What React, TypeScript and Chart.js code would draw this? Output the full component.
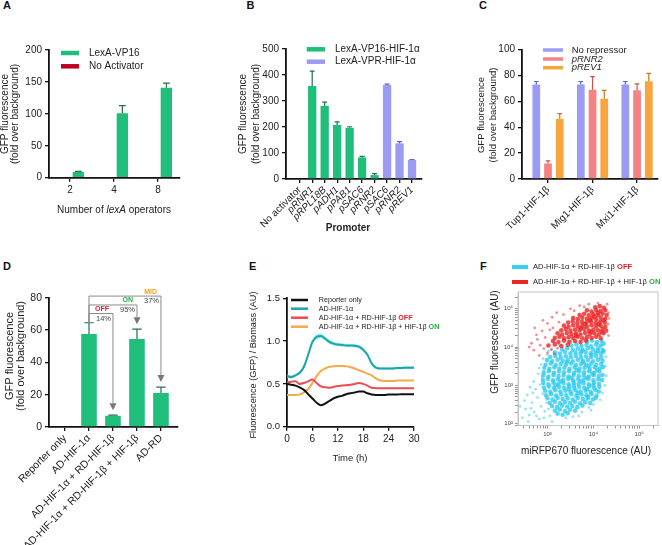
import React, { useEffect, useRef } from "react";
import { Chart, registerables } from "chart.js";

Chart.register(...registerables);

const PAGE_W = 662;
const PAGE_H = 545;
const FONT = "'Liberation Sans', Arial, Helvetica, sans-serif";
Chart.defaults.font.family = FONT;
Chart.defaults.color = "#222";

// ---------------- DATA ----------------
// Panel A
const aOperators = ["2", "4", "8"];
const aVP16 = [9, 101, 141];
const aVP16Err = [1, 12, 7];
const aNoActivator = [0, 0, 0];

// Panel B
const bPromoters = ["No activator", "pRNR1", "pRPL18B", "pADH1", "pPAB1", "pSAC6", "pRNR2", "pSAC6", "pRNR2", "pREV1"];
const bVP16 = [0, 358, 281, 208, 197, 83, 15];
const bVP16Err = [0, 57, 15, 12, 4, 4, 6];
const bVPR = [362, 137, 73];
const bVPRErr = [3, 7, 2];

// Panel C
const cFusions = ["Tup1-HIF-1β", "Mig1-HIF-1β", "Mxi1-HIF-1β"];
const cNoRepressor = [73, 73, 73];
const cNoRepressorErr = [2.3, 2.3, 2.3];
const cRNR2 = [12, 69, 68.5];
const cRNR2Err = [2, 10, 5];
const cREV1 = [46.5, 62, 75.5];
const cREV1Err = [4, 6.5, 6];

// Panel D
const dConditions = ["Reporter only", "AD-HIF-1α", "AD-HIF-1α + RD-HIF-1β", "AD-HIF-1α + RD-HIF-1β + HIF-1β", "AD-RD"];
const dValues = [0, 57.5, 7, 54.5, 21];
const dErr = [0, 7, 0.3, 6, 3.7];
const dTargets = [2, 3, 4];
const dLevels = [70.2, 75.5, 81];
const dStatus = ["OFF", "ON", "MID"];
const dStatusColors = ["#e8202a", "#22b33a", "#f0a020"];
const dPercent = ["14%", "95%", "37%"];

// Panel E
const eTimes = [0, 1, 2, 3, 4, 5, 6, 7, 8, 9, 10, 11, 12, 13, 14, 15, 16, 17, 18, 19, 20, 21, 22, 23, 24, 25, 26, 27, 28, 29, 30];
const eReporter = [0.5, 0.49, 0.48, 0.46, 0.43, 0.38, 0.33, 0.28, 0.25, 0.27, 0.3, 0.33, 0.35, 0.36, 0.38, 0.39, 0.4, 0.41, 0.41, 0.39, 0.375, 0.37, 0.37, 0.37, 0.375, 0.375, 0.375, 0.38, 0.38, 0.38, 0.38];
const eAD = [0.59, 0.58, 0.6, 0.63, 0.7, 0.84, 0.99, 1.05, 1.06, 1.03, 0.99, 0.97, 0.96, 0.955, 0.95, 0.95, 0.945, 0.935, 0.9, 0.84, 0.74, 0.69, 0.68, 0.68, 0.68, 0.68, 0.685, 0.685, 0.69, 0.69, 0.69];
const eADsem = [0.02, 0.02, 0.02, 0.02, 0.025, 0.03, 0.03, 0.03, 0.03, 0.03, 0.025, 0.025, 0.02, 0.02, 0.02, 0.02, 0.02, 0.02, 0.02, 0.02, 0.02, 0.015, 0.015, 0.015, 0.015, 0.015, 0.015, 0.015, 0.015, 0.015, 0.015];
const eOff = [0.52, 0.525, 0.53, 0.5, 0.51, 0.53, 0.55, 0.51, 0.47, 0.46, 0.455, 0.465, 0.475, 0.48, 0.485, 0.49, 0.5, 0.51, 0.5, 0.48, 0.455, 0.45, 0.45, 0.45, 0.45, 0.45, 0.45, 0.45, 0.45, 0.45, 0.45];
const eOn = [0.37, 0.37, 0.37, 0.375, 0.4, 0.44, 0.51, 0.59, 0.65, 0.68, 0.7, 0.705, 0.71, 0.71, 0.705, 0.695, 0.68, 0.66, 0.64, 0.62, 0.6, 0.565, 0.54, 0.535, 0.535, 0.535, 0.54, 0.54, 0.54, 0.54, 0.54];
const eLabels = ["Reporter only", "AD-HIF-1α", "AD-HIF-1α + RD-HIF-1β ", "AD-HIF-1α + RD-HIF-1β + HIF-1β "];
const eTags = ["", "", "OFF", "ON"];

// Panel F (log10 of miRFP670, log10 of GFP)
const fOffCells = [
  [3.86, 4.14], [3.97, 4.17], [4.08, 4.13], [4.18, 4.16],
  [3.52, 4.04], [3.63, 4.07], [3.74, 4.03], [3.85, 4.06], [3.95, 4.02], [4.06, 4.07], [4.16, 4.04], [4.22, 4.09],
  [3.32, 3.94], [3.43, 3.97], [3.55, 3.93], [3.66, 3.96], [3.77, 3.92], [3.88, 3.97], [3.99, 3.94], [4.1, 3.96], [4.2, 3.93],
  [3.16, 3.86], [3.27, 3.83], [3.38, 3.87], [3.5, 3.84], [3.61, 3.86], [3.72, 3.83], [3.83, 3.87], [3.94, 3.84], [4.05, 3.86], [4.16, 3.83], [4.22, 3.88],
  [3.06, 3.74], [3.17, 3.77], [3.29, 3.73], [3.4, 3.76], [3.51, 3.74], [3.62, 3.77], [3.73, 3.73], [3.84, 3.76], [3.95, 3.74], [4.06, 3.77], [4.17, 3.73],
  [2.99, 3.66], [3.1, 3.63], [3.22, 3.67], [3.33, 3.64], [3.44, 3.66], [3.55, 3.63], [3.66, 3.67], [3.77, 3.64], [3.88, 3.66], [3.99, 3.63], [4.1, 3.67], [4.2, 3.64],
  [2.96, 3.54], [3.07, 3.57], [3.18, 3.53], [3.29, 3.56], [3.4, 3.54], [3.51, 3.57], [3.62, 3.53], [3.73, 3.56], [3.84, 3.54], [3.95, 3.57], [4.06, 3.53], [4.17, 3.56],
  [2.93, 3.46], [3.04, 3.43], [3.15, 3.47], [3.26, 3.44], [3.37, 3.46], [3.48, 3.43], [3.59, 3.47], [3.7, 3.44], [3.81, 3.46], [3.92, 3.43], [4.03, 3.47], [4.14, 3.44], [4.21, 3.48],
  [2.92, 3.34], [3.03, 3.37], [3.14, 3.33], [3.25, 3.36], [3.36, 3.34], [3.47, 3.37], [3.58, 3.33], [3.69, 3.36], [3.8, 3.34], [3.91, 3.37], [4.02, 3.33], [4.13, 3.36],
  [2.91, 3.26], [3.02, 3.23], [3.13, 3.27], [3.24, 3.24], [3.35, 3.26], [3.46, 3.23], [3.57, 3.27], [3.68, 3.24], [3.79, 3.26], [3.9, 3.23], [4.01, 3.27], [4.12, 3.24], [4.2, 3.27],
  [2.9, 3.14], [3.01, 3.17], [3.12, 3.13], [3.23, 3.16], [3.34, 3.14], [3.45, 3.17], [3.56, 3.13], [3.67, 3.16], [3.78, 3.14], [3.89, 3.17], [4.0, 3.13], [4.11, 3.16], [4.19, 3.14],
  [2.91, 3.06], [3.02, 3.03], [3.13, 3.07], [3.24, 3.04], [3.35, 3.06], [3.46, 3.03], [3.57, 3.07], [3.68, 3.04], [3.79, 3.06], [3.9, 3.03], [4.01, 3.07], [4.12, 3.04],
  [2.92, 2.94], [3.03, 2.97], [3.14, 2.93], [3.25, 2.96], [3.36, 2.94], [3.47, 2.97], [3.58, 2.93], [3.69, 2.96], [3.8, 2.94], [3.91, 2.97], [4.02, 2.93], [4.13, 2.96],
  [2.95, 2.86], [3.06, 2.83], [3.17, 2.87], [3.28, 2.84], [3.39, 2.86], [3.5, 2.83], [3.61, 2.87], [3.72, 2.84], [3.83, 2.86], [3.94, 2.83], [4.05, 2.87], [4.12, 2.84],
  [2.97, 2.74], [3.08, 2.77], [3.19, 2.73], [3.3, 2.76], [3.41, 2.74], [3.52, 2.77], [3.63, 2.73], [3.74, 2.76], [3.85, 2.74], [3.96, 2.77], [4.07, 2.73],
  [3.0, 2.66], [3.11, 2.63], [3.22, 2.67], [3.33, 2.64], [3.44, 2.66], [3.55, 2.63], [3.66, 2.67], [3.77, 2.64], [3.88, 2.66], [3.99, 2.63], [4.05, 2.67],
  [3.05, 2.54], [3.16, 2.57], [3.27, 2.53], [3.38, 2.56], [3.49, 2.54], [3.6, 2.57], [3.71, 2.53], [3.82, 2.56], [3.93, 2.54],
  [3.1, 2.46], [3.21, 2.43], [3.32, 2.47], [3.43, 2.44], [3.54, 2.46], [3.65, 2.43], [3.76, 2.47],
  [3.16, 2.34], [3.27, 2.37], [3.38, 2.33], [3.49, 2.36], [3.6, 2.34],
  [3.22, 2.26], [3.33, 2.23], [3.44, 2.27],
  [3.58, 3.0], [3.72, 3.1], [3.85, 3.2], [3.64, 3.4], [3.9, 3.5], [3.78, 3.6], [3.98, 3.3], [4.08, 3.4], [3.52, 3.2], [3.46, 2.9],
  [3.66, 2.8], [3.86, 2.9], [4.0, 3.0], [3.74, 3.9], [3.96, 3.8], [4.1, 3.9], [3.42, 3.6], [3.3, 3.1], [3.18, 3.0], [3.88, 2.7],
];
const fOffSparse = [
  [2.45, 2.15], [2.52, 2.38], [2.6, 2.22], [2.66, 2.55], [2.71, 2.3], [2.78, 2.68], [2.82, 2.12], [2.86, 2.45], [2.9, 2.78], [2.58, 2.05],
  [2.74, 2.9], [2.84, 3.02], [2.88, 3.22], [2.94, 2.32], [3.05, 2.2], [3.1, 2.05], [2.98, 2.55], [2.68, 2.8], [2.8, 3.3], [2.86, 3.55],
  [3.0, 3.8], [3.1, 3.95], [3.25, 4.05], [3.45, 4.15], [4.26, 3.5], [4.25, 3.0], [4.24, 3.9], [3.55, 2.18], [3.75, 2.3], [3.9, 2.42],
  [4.0, 2.5], [4.15, 2.62], [2.5, 2.6], [2.62, 2.95], [2.4, 2.45], [2.56, 2.75], [2.7, 3.1], [2.76, 2.2], [2.92, 2.15], [3.02, 2.38],
  [2.82, 3.45], [2.9, 3.7], [3.02, 3.9], [4.28, 3.25], [4.27, 3.75], [4.2, 2.8], [3.95, 2.35], [3.68, 2.2], [3.4, 2.15], [2.64, 2.4],
];
const fOnCells = [
  [4.04, 5.04], [4.14, 5.07], [4.23, 5.03],
  [3.86, 4.96], [3.96, 4.93], [4.06, 4.97], [4.16, 4.94], [4.26, 4.96],
  [3.7, 4.84], [3.8, 4.87], [3.9, 4.83], [4.0, 4.86], [4.1, 4.84], [4.2, 4.87], [4.29, 4.84],
  [3.56, 4.76], [3.66, 4.73], [3.76, 4.77], [3.86, 4.74], [3.96, 4.76], [4.06, 4.73], [4.16, 4.77], [4.26, 4.74],
  [3.45, 4.64], [3.55, 4.67], [3.65, 4.63], [3.75, 4.66], [3.85, 4.64], [3.95, 4.67], [4.05, 4.63], [4.15, 4.66], [4.25, 4.64],
  [3.36, 4.56], [3.46, 4.53], [3.56, 4.57], [3.66, 4.54], [3.76, 4.56], [3.86, 4.53], [3.96, 4.57], [4.06, 4.54], [4.16, 4.56], [4.26, 4.53],
  [3.3, 4.44], [3.4, 4.47], [3.5, 4.43], [3.6, 4.46], [3.7, 4.44], [3.8, 4.47], [3.9, 4.43], [4.0, 4.46], [4.1, 4.44], [4.2, 4.47], [4.28, 4.43],
  [3.22, 4.36], [3.32, 4.33], [3.42, 4.37], [3.52, 4.34], [3.62, 4.36], [3.72, 4.33], [3.82, 4.37], [3.92, 4.34], [4.02, 4.36], [4.12, 4.33], [4.22, 4.36],
  [3.16, 4.24], [3.26, 4.27], [3.36, 4.23], [3.46, 4.26], [3.56, 4.24], [3.66, 4.27], [3.76, 4.23], [3.86, 4.26], [3.96, 4.24], [4.06, 4.27], [4.16, 4.23],
  [3.12, 4.16], [3.24, 4.13], [3.36, 4.17], [3.48, 4.14], [3.6, 4.16], [3.72, 4.13], [3.84, 4.17],
  [3.02, 4.04], [3.16, 4.07], [3.3, 4.03], [3.44, 4.06],
  [3.92, 4.7], [4.02, 4.8], [4.12, 4.6], [4.22, 4.7], [3.82, 4.6], [3.72, 4.5], [4.1, 4.9], [3.95, 4.4], [4.18, 4.4], [3.62, 4.3],
];
const fOnSparse = [
  [2.92, 3.96], [3.08, 3.93], [3.22, 3.97],
  [2.7, 3.92], [2.78, 4.2], [2.88, 4.42], [3.0, 4.62], [2.84, 4.05], [3.1, 4.78], [2.76, 4.32], [2.95, 4.25], [3.05, 4.45], [2.65, 4.1],
  [3.2, 4.9], [3.35, 4.85], [3.5, 5.0], [3.7, 5.08], [3.9, 5.12], [4.3, 5.12], [3.0, 3.85], [2.82, 3.78], [3.15, 3.82], [4.32, 4.6], [4.33, 4.9],
  [2.6, 4.0], [2.72, 4.5], [2.9, 4.7], [3.25, 4.65], [3.12, 4.5], [3.58, 4.95], [3.8, 5.05], [4.1, 5.15], [4.34, 4.75], [4.33, 4.3],
];
const fLabels = ["AD-HIF-1α + RD-HIF-1β ", "AD-HIF-1α + RD-HIF-1β + HIF-1β "];
const fTags = ["OFF", "ON"];

// ---------------- STYLE ----------------
const GREEN = "#1fbf7b";
const GREEN_ERR = "#2a6b52";
const DARKRED = "#c0001e";
const PURPLE = "#9b9bf4";
const PURPLE_ERR = "#6360c4";
const SALMON = "#f58383";
const SALMON_ERR = "#c85252";
const ORANGE = "#f7a53c";
const ORANGE_ERR = "#bf7a1e";
const TAG_RED = "#e8202a";
const TAG_GREEN = "#22b33a";

type Area = { l: number; t: number; r: number; b: number };

function base(a: Area) {
  return {
    animation: false,
    responsive: false,
    events: [],
    layout: { padding: { left: 0, top: a.t, right: PAGE_W - a.r, bottom: 0 } },
    plugins: { legend: { display: false }, tooltip: { enabled: false } },
  };
}

const axisGrid = (extra: any = {}) => ({
  display: true,
  drawOnChartArea: false,
  drawTicks: true,
  tickLength: 4,
  color: "#111",
  lineWidth: 1.3,
  offset: false,
  ...extra,
});
const axisBorder = { display: true, color: "#111", width: 1.8 };

function catAxis(a: Area, labels: string[], min: number, max: number, tickOpts: any) {
  return {
    type: "linear",
    min,
    max,
    offset: false,
    afterBuildTicks: (s: any) => {
      s.ticks = labels.map((_, i) => ({ value: i }));
    },
    afterFit: (s: any) => {
      s.height = PAGE_H - a.b;
    },
    ticks: { autoSkip: false, padding: 2, color: "#222", callback: (v: number) => labels[v] ?? "", ...tickOpts },
    grid: axisGrid(),
    border: axisBorder,
  };
}

function valAxis(a: Area, max: number, step: number, tickOpts: any = {}) {
  return {
    min: 0,
    max,
    afterFit: (s: any) => {
      s.width = a.l;
    },
    ticks: { stepSize: step, padding: 3, color: "#222", font: { size: 10 }, ...tickOpts },
    grid: axisGrid(),
    border: axisBorder,
  };
}

function fontStr(size: number, weight = "normal", style = "normal") {
  return `${style} ${weight} ${size}px ${FONT}`;
}

function drawText(ctx: CanvasRenderingContext2D, str: string, x: number, y: number, o: any = {}) {
  ctx.save();
  ctx.font = fontStr(o.size || 10, o.weight, o.style);
  ctx.fillStyle = o.color || "#222";
  ctx.textAlign = o.align || "left";
  ctx.textBaseline = "middle";
  ctx.translate(x, y);
  if (o.rot) ctx.rotate(o.rot);
  ctx.fillText(str, 0, 0);
  ctx.restore();
}

function drawRich(ctx: CanvasRenderingContext2D, segs: any[], x: number, y: number, size: number, align = "left") {
  ctx.save();
  let total = 0;
  const widths = segs.map((s) => {
    ctx.font = fontStr(size, s.weight, s.style);
    const w = ctx.measureText(s.t).width;
    total += w;
    return w;
  });
  let cx = align === "center" ? x - total / 2 : align === "right" ? x - total : x;
  ctx.textBaseline = "middle";
  ctx.textAlign = "left";
  segs.forEach((s, i) => {
    ctx.font = fontStr(size, s.weight, s.style);
    ctx.fillStyle = s.color || "#222";
    ctx.fillText(s.t, cx, y);
    cx += widths[i];
  });
  ctx.restore();
}

function yTitle(ctx: CanvasRenderingContext2D, lines: string[], xs: number[], cy: number, size: number) {
  lines.forEach((l, i) => drawText(ctx, l, xs[i], cy, { size, align: "center", rot: -Math.PI / 2 }));
}

function swatch(ctx: CanvasRenderingContext2D, x1: number, x2: number, y: number, h: number, color: string) {
  ctx.save();
  ctx.fillStyle = color;
  ctx.fillRect(x1, y - h / 2, x2 - x1, h);
  ctx.restore();
}

const errorBars = {
  id: "errorBars",
  afterDatasetsDraw(chart: any) {
    const ctx = chart.ctx;
    const ys = chart.scales.y;
    chart.data.datasets.forEach((ds: any, i: number) => {
      if (!ds.errors) return;
      const meta = chart.getDatasetMeta(i);
      meta.data.forEach((el: any, j: number) => {
        const v = ds.data[j].y;
        const e = ds.errors[j];
        if (!e || !v) return;
        const yTop = ys.getPixelForValue(v + e);
        const yBase = ys.getPixelForValue(v);
        const hw = el.width * 0.3;
        ctx.save();
        ctx.strokeStyle = ds.errColor;
        ctx.lineWidth = 1.2;
        ctx.beginPath();
        ctx.moveTo(el.x, yBase);
        ctx.lineTo(el.x, yTop);
        ctx.moveTo(el.x - hw, yTop);
        ctx.lineTo(el.x + hw, yTop);
        ctx.stroke();
        ctx.restore();
      });
    });
  },
};

const decor = (fn: (chart: any, ctx: CanvasRenderingContext2D) => void) => ({
  id: "decor",
  afterDraw(chart: any) {
    fn(chart, chart.ctx);
  },
});

const xy = (arr: number[], offset = 0) => arr.map((v, i) => ({ x: i + offset, y: v }));

// ---------------- PANELS ----------------
function makeA() {
  const area = { l: 49, t: 50, r: 180, b: 177.7 };
  return {
    type: "bar",
    data: {
      datasets: [
        { label: "No Activator", data: xy(aNoActivator), backgroundColor: DARKRED, categoryPercentage: 0.76, barPercentage: 0.68 },
        { label: "LexA-VP16", data: xy(aVP16), backgroundColor: GREEN, errors: aVP16Err, errColor: GREEN_ERR, categoryPercentage: 0.76, barPercentage: 0.68 },
      ],
    },
    options: {
      ...base(area),
      scales: {
        x: catAxis(area, aOperators, -0.477, 2.5, { maxRotation: 0, minRotation: 0, padding: 3, font: { size: 10 } }),
        y: valAxis(area, 200, 50),
      },
    },
    plugins: [
      errorBars,
      decor((c, ctx) => {
        yTitle(ctx, ["GFP fluorescence", "(fold over background)"], [5.5, 15.5], 114, 10);
        drawRich(ctx, [{ t: "Number of " }, { t: "lexA", style: "italic" }, { t: " operators" }], 114, 210, 10, "center");
        swatch(ctx, 61, 79, 53, 4.5, GREEN);
        swatch(ctx, 61, 79, 66.3, 4.5, DARKRED);
        drawText(ctx, "LexA-VP16", 89, 53, { size: 10 });
        drawText(ctx, "No Activator", 89, 66.3, { size: 10 });
      }),
    ],
  };
}

function makeB() {
  const area = { l: 286, t: 49, r: 422, b: 179 };
  return {
    type: "bar",
    data: {
      datasets: [
        { label: "LexA-VP16-HIF-1α", data: xy(bVP16), backgroundColor: GREEN, errors: bVP16Err, errColor: GREEN_ERR, grouped: false, categoryPercentage: 1, barPercentage: 0.665 },
        { label: "LexA-VPR-HIF-1α", data: xy(bVPR, bVP16.length), backgroundColor: PURPLE, errors: bVPRErr, errColor: PURPLE_ERR, grouped: false, categoryPercentage: 1, barPercentage: 0.665 },
      ],
    },
    options: {
      ...base(area),
      scales: {
        x: catAxis(area, bPromoters, -1.1, 9.8, {
          maxRotation: 45,
          minRotation: 45,
          padding: 1,
          font: (c: any) => ({ size: 10, style: c.index > 0 ? "italic" : "normal" }),
        }),
        y: valAxis(area, 500, 100),
      },
    },
    plugins: [
      errorBars,
      decor((c, ctx) => {
        yTitle(ctx, ["GFP fluorescence", "(fold over background)"], [243.7, 256.2], 114, 10);
        drawText(ctx, "Promoter", 348, 228, { size: 10, weight: "bold", align: "center" });
        swatch(ctx, 306.7, 325, 49.3, 4.5, GREEN);
        swatch(ctx, 306.7, 325, 61.7, 4.5, PURPLE);
        drawText(ctx, "LexA-VP16-HIF-1α", 335, 49.3, { size: 10 });
        drawText(ctx, "LexA-VPR-HIF-1α", 335, 61.7, { size: 10 });
      }),
    ],
  };
}

function makeC() {
  const area = { l: 522, t: 49.5, r: 658, b: 179 };
  const common = { categoryPercentage: 0.79, barPercentage: 0.66 };
  return {
    type: "bar",
    data: {
      datasets: [
        { label: "No repressor", data: xy(cNoRepressor), backgroundColor: PURPLE, errors: cNoRepressorErr, errColor: PURPLE_ERR, ...common },
        { label: "pRNR2", data: xy(cRNR2), backgroundColor: SALMON, errors: cRNR2Err, errColor: SALMON_ERR, ...common },
        { label: "pREV1", data: xy(cREV1), backgroundColor: ORANGE, errors: cREV1Err, errColor: ORANGE_ERR, ...common },
      ],
    },
    options: {
      ...base(area),
      scales: {
        x: catAxis(area, cFusions, -0.584, 2.47, { maxRotation: 45, minRotation: 45, padding: 1, font: { size: 10 } }),
        y: valAxis(area, 100, 20),
      },
    },
    plugins: [
      errorBars,
      decor((c, ctx) => {
        yTitle(ctx, ["GFP fluorescence", "(fold over background)"], [481.7, 493.5], 115, 9.5);
        swatch(ctx, 543, 563, 50, 3.5, PURPLE);
        swatch(ctx, 543, 563, 59, 3.5, SALMON);
        swatch(ctx, 543, 563, 67.7, 3.5, ORANGE);
        drawText(ctx, "No repressor", 571.7, 50, { size: 9.5 });
        drawText(ctx, "pRNR2", 571.7, 59, { size: 9.5, style: "italic" });
        drawText(ctx, "pREV1", 571.7, 67.7, { size: 9.5, style: "italic" });
      }),
    ],
  };
}

function makeD() {
  const area = { l: 49, t: 297.7, r: 178, b: 427 };
  return {
    type: "bar",
    data: {
      datasets: [
        { label: "GFP", data: xy(dValues), backgroundColor: GREEN, errors: dErr, errColor: GREEN_ERR, categoryPercentage: 1, barPercentage: 0.65 },
      ],
    },
    options: {
      ...base(area),
      scales: {
        x: catAxis(area, dConditions, -0.667, 4.71, { maxRotation: 45, minRotation: 45, padding: 1, font: { size: 10.5 } }),
        y: valAxis(area, 80, 20, { font: { size: 10.5 } }),
      },
    },
    plugins: [
      errorBars,
      decor((chart, ctx) => {
        yTitle(ctx, ["GFP fluorescence", "(fold over background)"], [10, 21], 356, 11);
        const xs = chart.scales.x;
        const ys = chart.scales.y;
        const x0 = xs.getPixelForValue(1);
        const srcTop = ys.getPixelForValue(dValues[1] + dErr[1]);
        ctx.save();
        ctx.strokeStyle = "#8a8a8a";
        ctx.fillStyle = "#777";
        ctx.lineWidth = 1;
        dTargets.forEach((t, k) => {
          const x1 = xs.getPixelForValue(t);
          const yL = ys.getPixelForValue(dLevels[k]);
          const tip = ys.getPixelForValue(dValues[t] + dErr[t]) - 5;
          ctx.beginPath();
          ctx.moveTo(x0, srcTop);
          ctx.lineTo(x0, yL);
          ctx.lineTo(x1, yL);
          ctx.lineTo(x1, tip - 7);
          ctx.stroke();
          ctx.beginPath();
          ctx.moveTo(x1 - 3.5, tip - 7);
          ctx.lineTo(x1 + 3.5, tip - 7);
          ctx.lineTo(x1, tip);
          ctx.closePath();
          ctx.fill();
          drawText(ctx, dStatus[k], x1 - 4, yL - 4.5, { size: 7, weight: "bold", color: dStatusColors[k], align: "right" });
          drawText(ctx, dPercent[k], x1 - 2, yL + 5, { size: 7.5, color: "#444", align: "right" });
        });
        ctx.restore();
      }),
    ],
  };
}

function makeE() {
  const area = { l: 287, t: 298.3, r: 414, b: 426.7 };
  const line = (label: string, vals: number[], color: string) => ({
    label,
    data: vals.map((v, i) => ({ x: eTimes[i], y: v })),
    borderColor: color,
    borderWidth: 2,
    pointRadius: 0,
    fill: false,
    tension: 0.4,
    cubicInterpolationMode: "monotone",
  });
  const colors = ["#111111", "#1ba6ac", "#f04a50", "#f6a94a"];
  return {
    type: "line",
    data: {
      datasets: [
        line(eLabels[0], eReporter, colors[0]),
        line(eLabels[1], eAD, colors[1]),
        line(eLabels[2], eOff, colors[2]),
        line(eLabels[3], eOn, colors[3]),
        {
          label: "upper",
          data: eAD.map((v, i) => ({ x: eTimes[i], y: v + eADsem[i] })),
          borderWidth: 0,
          pointRadius: 0,
          fill: "+1",
          backgroundColor: "rgba(110,225,235,0.6)",
          tension: 0.4,
          cubicInterpolationMode: "monotone",
        },
        {
          label: "lower",
          data: eAD.map((v, i) => ({ x: eTimes[i], y: v - eADsem[i] })),
          borderWidth: 0,
          pointRadius: 0,
          fill: false,
          tension: 0.4,
          cubicInterpolationMode: "monotone",
        },
      ],
    },
    options: {
      ...base(area),
      scales: {
        x: {
          type: "linear",
          min: 0,
          max: 30,
          afterFit: (s: any) => {
            s.height = PAGE_H - area.b;
          },
          ticks: { stepSize: 6, padding: 3, font: { size: 10 }, color: "#222" },
          grid: axisGrid(),
          border: axisBorder,
        },
        y: valAxis(area, 1.5, 0.5, { callback: (v: number) => Number(v).toFixed(1), font: { size: 9.5 } }),
      },
    },
    plugins: [
      decor((c, ctx) => {
        drawText(ctx, "Fluorescence (GFP) / Biomass (AU)", 253.3, 365, { size: 9.2, align: "center", rot: -Math.PI / 2 });
        drawText(ctx, "Time (h)", 350, 458, { size: 9.5, align: "center" });
        const ly = [300, 308.7, 317.7, 326.7];
        eLabels.forEach((l, i) => {
          swatch(ctx, 291, 308, ly[i], 2.5, colors[i]);
          const segs: any[] = [{ t: l }];
          if (eTags[i]) segs.push({ t: eTags[i], weight: "bold", color: i === 2 ? TAG_RED : TAG_GREEN });
          drawRich(ctx, segs, 318.7, ly[i], 7.2);
        });
      }),
    ],
  };
}

const SUP: Record<number, string> = { 1: "¹", 2: "²", 3: "³", 4: "⁴", 5: "⁵", 6: "⁶" };

function logAxis(a: Area, lo: number, hi: number, isX: boolean) {
  return {
    type: "logarithmic",
    min: Math.pow(10, lo),
    max: Math.pow(10, hi),
    afterBuildTicks: (s: any) => {
      const t: any[] = [];
      for (let e = 1; e <= 6; e++) {
        for (let k = 1; k <= 9; k++) {
          const v = k * Math.pow(10, e);
          if (v >= s.min && v <= s.max) t.push({ value: v, major: k === 1 });
        }
      }
      s.ticks = t;
    },
    afterFit: (s: any) => {
      if (isX) s.height = PAGE_H - a.b;
      else s.width = a.l;
    },
    ticks: {
      autoSkip: false,
      maxRotation: 0,
      minRotation: 0,
      padding: 2,
      color: "#444",
      font: { size: 6 },
      callback: (v: number) => {
        const e = Math.log10(v);
        const r = Math.round(e);
        return Math.abs(e - r) < 1e-6 ? "10" + SUP[r] : "";
      },
    },
    grid: {
      display: true,
      drawOnChartArea: false,
      drawTicks: true,
      tickLength: 3,
      color: "#666",
      lineWidth: 0.7,
      offset: false,
    },
    border: { display: true, color: "#c4c4c4", width: 1 },
  };
}

function makeF() {
  const area = { l: 518, t: 292, r: 658, b: 425.5 };
  const pts = (arr: number[][]) => arr.map(([a, b]) => ({ x: Math.pow(10, a), y: Math.pow(10, b) }));
  const CYAN = "rgba(45,202,240,0.8)";
  const CYAN_LIGHT = "rgba(45,202,240,0.5)";
  const RED = "rgba(236,34,34,0.8)";
  const RED_LIGHT = "rgba(236,34,34,0.5)";
  return {
    type: "scatter",
    data: {
      datasets: [
        { label: fLabels[0] + fTags[0], data: pts(fOffCells), backgroundColor: CYAN, borderWidth: 0, pointRadius: 2.3, order: 2 },
        { label: fLabels[0] + fTags[0] + " sparse", data: pts(fOffSparse), backgroundColor: CYAN_LIGHT, borderWidth: 0, pointRadius: 1.4, order: 3 },
        { label: fLabels[1] + fTags[1], data: pts(fOnCells), backgroundColor: RED, borderWidth: 0, pointRadius: 2.3, order: 0 },
        { label: fLabels[1] + fTags[1] + " sparse", data: pts(fOnSparse), backgroundColor: RED_LIGHT, borderWidth: 0, pointRadius: 1.4, order: 1 },
      ],
    },
    options: {
      ...base(area),
      scales: {
        x: logAxis(area, 2.356, 5.41, true),
        y: logAxis(area, 1.95, 5.44, false),
      },
    },
    plugins: [
      decor((chart, ctx) => {
        const a = chart.chartArea;
        ctx.save();
        ctx.strokeStyle = "#c4c4c4";
        ctx.lineWidth = 1;
        ctx.strokeRect(a.left, a.top, a.right - a.left, a.bottom - a.top);
        ctx.restore();
        drawText(ctx, "GFP fluorescence (AU)", 495, 342, { size: 10, align: "center", rot: -Math.PI / 2 });
        drawText(ctx, "miRFP670 fluorescence (AU)", 586, 451, { size: 10, align: "center" });
        swatch(ctx, 512, 528, 267, 4, "#33d3ee");
        swatch(ctx, 512, 528, 282, 4, "#ec2424");
        fLabels.forEach((l, i) => {
          drawRich(ctx, [{ t: l }, { t: fTags[i], weight: "bold", color: i === 0 ? TAG_RED : TAG_GREEN }], 533, i === 0 ? 267 : 282, 7.6);
        });
      }),
    ],
  };
}

function ChartCanvas({ make }: { make: () => any }) {
  const ref = useRef<HTMLCanvasElement>(null);
  useEffect(() => {
    const chart = new Chart(ref.current as HTMLCanvasElement, make());
    return () => chart.destroy();
  }, []);
  return (
    <canvas
      ref={ref}
      width={PAGE_W}
      height={PAGE_H}
      style={{ position: "absolute", left: 0, top: 0, width: PAGE_W, height: PAGE_H }}
    />
  );
}

const letters = [
  { t: "A", x: 3, y: 0 },
  { t: "B", x: 246.5, y: 0 },
  { t: "C", x: 479, y: 0 },
  { t: "D", x: 3, y: 261 },
  { t: "E", x: 249, y: 261 },
  { t: "F", x: 480, y: 261 },
];

export default function App() {
  return (
    <div style={{ position: "absolute", left: 0, top: 0, width: PAGE_W, height: PAGE_H, background: "#fff", overflow: "hidden" }}>
      {letters.map((l) => (
        <div
          key={l.t}
          style={{
            position: "absolute",
            left: l.x,
            top: l.y,
            fontFamily: FONT,
            fontWeight: "bold",
            fontSize: 11,
            lineHeight: "11px",
            color: "#111",
          }}
        >
          {l.t}
        </div>
      ))}
      <ChartCanvas make={makeA} />
      <ChartCanvas make={makeB} />
      <ChartCanvas make={makeC} />
      <ChartCanvas make={makeD} />
      <ChartCanvas make={makeE} />
      <ChartCanvas make={makeF} />
    </div>
  );
}
